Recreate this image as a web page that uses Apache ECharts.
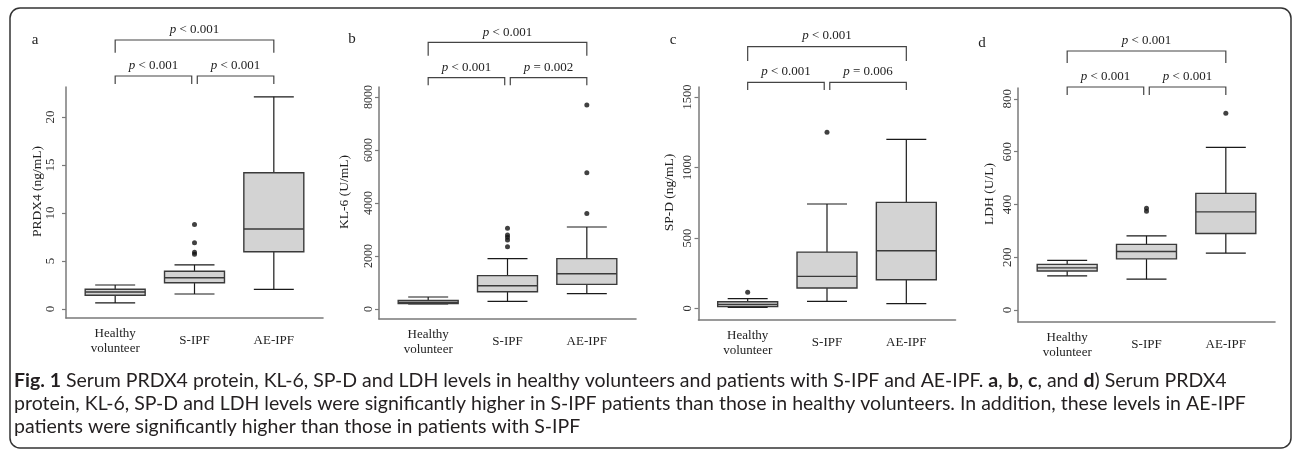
<!DOCTYPE html>
<html><head><meta charset="utf-8">
<script src="https://cdn.jsdelivr.net/npm/echarts@6/dist/echarts.min.js"></script>
<style>html,body{margin:0;padding:0;background:#fff}#c{width:1292px;height:449px}</style>
</head><body><div id="c"></div>
<script>
// ---------- DATA ----------
const categories = ['Healthy\nvolunteer', 'S-IPF', 'AE-IPF'];
const panelLetters = ['a', 'b', 'c', 'd'];
const yTitles = ['PRDX4 (ng/mL)', 'KL-6 (U/mL)', 'SP-D (ng/mL)', 'LDH (U/L)'];

const yTicksA = [0, 5, 10, 15, 20];
const yTicksB = [0, 2000, 4000, 6000, 8000];
const yTicksC = [0, 500, 1000, 1500];
const yTicksD = [0, 200, 400, 600, 800];

// box stats per group: [lower whisker, Q1, median, Q3, upper whisker]
const boxA = [[0.63, 1.43, 1.77, 2.05, 2.5], [1.56, 2.74, 3.26, 3.93, 4.6], [2.05, 5.97, 8.33, 14.2, 22.1]];
const boxB = [[190, 205, 250, 320, 453], [290, 653, 880, 1258, 1900], [577, 930, 1332, 1900, 3094]];
const boxC = [[8, 13, 28, 48, 70], [51, 145, 228, 400, 741], [34, 204, 410, 753, 1200]];
const boxD = [[130, 148, 160, 173, 188], [117, 194, 222, 249, 281], [216, 290, 372, 442, 616]];

// outliers: [group index, value]
const outA = [[1, 5.7], [1, 5.9], [1, 6.9], [1, 8.8]];
const outB = [[1, 2352], [1, 2604], [1, 2705], [1, 2792], [1, 3045], [2, 3600], [2, 5143], [2, 7698]];
const outC = [[0, 115], [1, 1250]];
const outD = [[1, 374], [1, 386], [2, 745]];

// comparisons: [group i, group j]
const comparisons = [[0, 2], [0, 1], [1, 2]];
const pA = ['< 0.001', '< 0.001', '< 0.001'];
const pB = ['< 0.001', '< 0.001', '= 0.002'];
const pC = ['< 0.001', '< 0.001', '= 0.006'];
const pD = ['< 0.001', '< 0.001', '< 0.001'];

const captionLines = [
  '{b|Fig. 1} Serum PRDX4 protein, KL-6, SP-D and LDH levels in healthy volunteers and patients with S-IPF and AE-IPF. {b|a}, {b|b}, {b|c}, and {b|d}) Serum PRDX4',
  'protein, KL-6, SP-D and LDH levels were significantly higher in S-IPF patients than those in healthy volunteers. In addition, these levels in AE-IPF',
  'patients were significantly higher than those in patients with S-IPF'
];

// ---------- LAYOUT ----------
const SERIF = '"Liberation Serif", "DejaVu Serif", serif';
const SANS = 'Lato, "Open Sans", sans-serif';
const PLOT_W = 257;
const BOX_W = 0.756, CAP_W = 0.504, GAP = 0.035;
const layouts = [
  {left: 66,    top: 87, bottom: 318, min: -0.9375, max: 23.125, lm: 9,   lfs: 13,   ng: 22, br: [40, 52.7, 76, 84, 30, 65.3],   letter: [35, 40]},
  {left: 379,   top: 87, bottom: 319, min: -377,    max: 8377,   lm: 4.5, lfs: 12, ng: 28, br: [42.3, 55.7, 77.7, 85.3, 32.3, 67.7], letter: [352, 39]},
  {left: 698.5, top: 87, bottom: 320, min: -81.6,   max: 1571,   lm: 4.5, lfs: 12.5, ng: 22, br: [46.7, 61, 82.3, 90, 35.7, 71.7], letter: [673, 40]},
  {left: 1018,  top: 88, bottom: 322, min: -45,     max: 841,    lm: 4,   lfs: 13,   ng: 21.5, br: [51, 63, 87, 95, 40.7, 76.7],   letter: [982, 43]}
];
const panels = [
  {box: boxA, out: outA, ticks: yTicksA, p: pA},
  {box: boxB, out: outB, ticks: yTicksB, p: pB},
  {box: boxC, out: outC, ticks: yTicksC, p: pC},
  {box: boxD, out: outD, ticks: yTicksD, p: pD}
];

const AXIS_COL = '#7a7a7a';
const BORDER_COL = '#3a3a3a';

function renderBox(params, api) {
  const x = api.value(0);
  const p = [1, 2, 3, 4, 5].map(i => api.coord([x, api.value(i)]));
  const cx = p[0][0];
  const hw = api.size([BOX_W, 0])[0] / 2;
  const cw = api.size([CAP_W, 0])[0] / 2;
  const [yMin, yQ1, yMed, yQ3, yMax] = p.map(q => q[1]);
  const wStyle = {stroke: '#1a1a1a', lineWidth: 1.2};
  return {type: 'group', children: [
    {type: 'line', shape: {x1: cx, y1: yQ3, x2: cx, y2: yMax}, style: wStyle},
    {type: 'line', shape: {x1: cx, y1: yQ1, x2: cx, y2: yMin}, style: wStyle},
    {type: 'line', shape: {x1: cx - cw, y1: yMax, x2: cx + cw, y2: yMax}, style: wStyle},
    {type: 'line', shape: {x1: cx - cw, y1: yMin, x2: cx + cw, y2: yMin}, style: wStyle},
    {type: 'rect', shape: {x: cx - hw, y: yQ3, width: 2 * hw, height: yQ1 - yQ3},
      style: {fill: '#d3d3d3', stroke: BORDER_COL, lineWidth: 1.4}},
    {type: 'line', shape: {x1: cx - hw, y1: yMed, x2: cx + hw, y2: yMed}, style: {stroke: BORDER_COL, lineWidth: 1.4}}
  ]};
}

function makeBracketRenderer(pi) {
  const lay = layouts[pi];
  const labels = panels[pi].p;
  return function (params, api) {
    const a = api.value(0), b = api.value(1);
    const isTop = (b - a) > 1;
    const xa = a + (a === 1 ? GAP : 0);
    const xb = b - (b === 1 ? GAP : 0);
    const x1 = api.coord([xa, 0])[0];
    const x2 = api.coord([xb, 0])[0];
    const yLine = isTop ? lay.br[0] : lay.br[2];
    const yLeg = isTop ? lay.br[1] : lay.br[3];
    const yText = isTop ? lay.br[4] : lay.br[5];
    const st = {stroke: '#444', lineWidth: 1.2, fill: null};
    return {type: 'group', children: [
      {type: 'polyline', shape: {points: [[x1, yLeg], [x1, yLine], [x2, yLine], [x2, yLeg]]}, style: st},
      {type: 'text', x: (x1 + x2) / 2, y: yText, style: {
        text: '{i|p} ' + labels[params.dataIndex],
        align: 'center', verticalAlign: 'middle',
        fontFamily: SERIF, fontSize: 13, fill: '#222',
        rich: {i: {fontStyle: 'italic', fontFamily: SERIF, fontSize: 13, fill: '#222'}}
      }}
    ]};
  };
}

const grid = [], xAxis = [], yAxis = [], series = [], graphic = [];
panels.forEach((pn, i) => {
  const lay = layouts[i];
  grid.push({left: lay.left, top: lay.top, width: PLOT_W, height: lay.bottom - lay.top, outerBoundsMode: 'none', containLabel: false});
  xAxis.push({
    gridIndex: i, type: 'value', min: -0.62, max: 2.62,
    axisLine: {show: true, onZero: false, lineStyle: {color: AXIS_COL, width: 1.6}},
    axisTick: {show: false}, splitLine: {show: false},
    axisLabel: {
      customValues: [0, 1, 2], formatter: v => categories[Math.round(v)],
      verticalAlign: 'middle', margin: 23, fontFamily: SERIF, fontSize: 13, color: '#222', lineHeight: 15
    }
  });
  yAxis.push({
    gridIndex: i, type: 'value', min: lay.min, max: lay.max,
    axisLine: {show: true, onZero: false, lineStyle: {color: AXIS_COL, width: 1.5}},
    axisTick: {show: true, customValues: pn.ticks, length: 4, lineStyle: {color: AXIS_COL, width: 1.2}},
    axisLabel: {customValues: pn.ticks, formatter: v => String(v), rotate: 90, margin: lay.lm,
      fontFamily: SERIF, fontSize: lay.lfs, color: '#333'},
    splitLine: {show: false},
    name: yTitles[i], nameLocation: 'middle', nameGap: lay.ng, nameMoveOverlap: false,
    nameTextStyle: {fontFamily: SERIF, fontSize: 13.5, color: '#222', padding: [0, 0, 0, 22]}
  });
  series.push({
    type: 'custom', xAxisIndex: i, yAxisIndex: i, clip: false,
    data: pn.box.map((s, g) => [g].concat(s)),
    renderItem: renderBox, silent: true
  });
  series.push({
    type: 'scatter', xAxisIndex: i, yAxisIndex: i, symbol: 'circle', symbolSize: 5,
    itemStyle: {color: '#111'}, data: pn.out, silent: true, z: 5
  });
  series.push({
    type: 'custom', xAxisIndex: i, yAxisIndex: i, clip: false,
    data: comparisons, renderItem: makeBracketRenderer(i), silent: true
  });
  graphic.push({type: 'text', x: lay.letter[0], y: lay.letter[1],
    style: {text: panelLetters[i], fontFamily: SERIF, fontSize: 15, fill: '#222', align: 'center', verticalAlign: 'middle'}});
});

graphic.push({type: 'rect', shape: {x: 10, y: 8, width: 1281, height: 440, r: 10},
  style: {fill: null, stroke: '#333', lineWidth: 1.5}, z: -1});
captionLines.forEach((t, k) => {
  graphic.push({type: 'text', x: 14, y: 381 + 23 * k, style: {
    text: t, fontFamily: SANS, fontSize: 19.5, fill: '#231f20', verticalAlign: 'middle', align: 'left',
    rich: {b: {fontFamily: SANS, fontSize: 19.5, fontWeight: 'bold', fill: '#231f20'}}
  }});
});

const chart = echarts.init(document.getElementById('c'), null, {renderer: 'canvas'});
chart.setOption({animation: false, backgroundColor: '#fff', grid, xAxis, yAxis, series, graphic});
</script></body></html>
